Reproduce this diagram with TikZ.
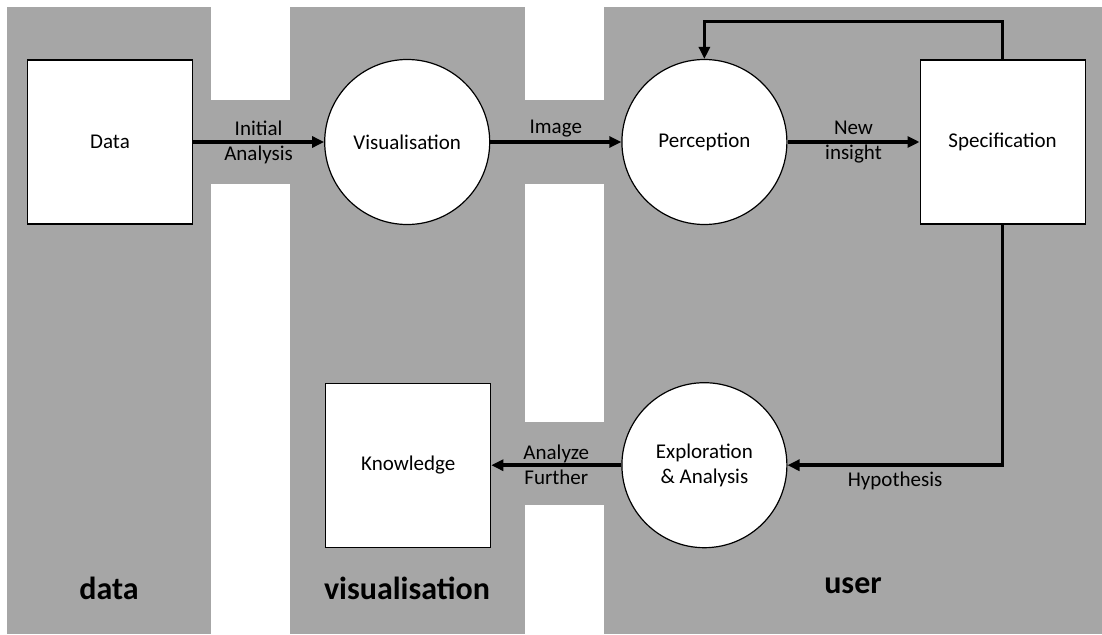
\documentclass[tikz,border=0pt]{standalone}
\usepackage{fontspec}
\setmainfont{Carlito}
\usetikzlibrary{positioning,arrows.meta}
\definecolor{lanegray}{RGB}{166,166,166}

\begin{document}
\begin{tikzpicture}[x=1pt,y=-1pt]
        \tikzstyle{box}=[draw,rectangle,fill=white,line width=1.2pt,minimum width=165pt,minimum height=164pt,align=center,font=\fontsize{21}{25}\selectfont]
        \tikzstyle{stage}=[draw,circle,fill=white,line width=1.2pt,minimum size=165pt,inner sep=0pt,align=center,font=\fontsize{21}{25}\selectfont]
        \tikzstyle{flow}=[line width=3.5pt,-{Triangle[length=12pt,width=11pt]}]
        \tikzstyle{lbl}=[align=center,font=\fontsize{21}{25}\selectfont]
        \tikzstyle{lane}=[anchor=base,font=\bfseries\fontsize{32}{38}\selectfont]

        \useasboundingbox (0,0) rectangle (1102,634);
        % the three lanes and the passages between them
        \fill[lanegray] (7,7) rectangle (211,634);
        \fill[lanegray] (290,7) rectangle (525,634);
        \fill[lanegray] (604,7) rectangle (1102,634);
        \fill[lanegray] (211,100) rectangle (290,184);
        \fill[lanegray] (525,100) rectangle (604,184);
        \fill[lanegray] (525,422) rectangle (604,505);

        \node[lane] (datalane) at (109,599) {data};
        \node[lane] (vislane) at (407,599) {visualisation};
        \node[lane] (userlane) at (853,593) {user};

        \node[box] (data) at (110,142) {Data};
        \node[stage] (vis) [right=131pt of data] {Visualisation};
        \node[stage] (perception) [right=131pt of vis] {Perception};
        \node[box] (spec) [right=132pt of perception] {Specification};
        \node[stage] (exploration) [below=157pt of perception] {Exploration\\\& Analysis};
        \node[box] (knowledge) [left=130pt of exploration] {Knowledge};

        \draw[flow] (data) -- node[lbl,midway] {Initial\\Analysis} (vis);
        \draw[flow] (vis) -- node[lbl,midway,above] {Image} (perception);
        \draw[flow] (perception) -- node[lbl,midway] {New\\insight} (spec);
        \draw[flow] (spec.north) -- ++(0,-38) -| (perception.north);
        \draw[flow] (spec.south) |- node[lbl,pos=0.75,below=2pt] {Hypothesis} (exploration.east);
        \draw[flow] (exploration) -- node[lbl,midway] {Analyze\\Further} (knowledge);
    \end{tikzpicture}
\end{document}
